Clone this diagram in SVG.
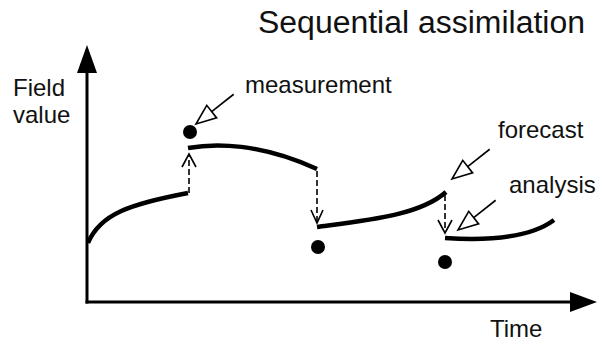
<svg xmlns="http://www.w3.org/2000/svg" width="599" height="343" viewBox="0 0 599 343">
<style>
text{font-family:"Liberation Sans",Arial,sans-serif;font-size:24px;fill:#111}
.axis{stroke:#000;stroke-width:3;fill:none}
.curve{stroke:#000;stroke-width:4.5;fill:none;stroke-linecap:butt}
.dash{stroke:#000;stroke-width:1.6;stroke-dasharray:6 3;fill:none}
.chev{stroke:#000;stroke-width:1.6;fill:none}
.ha line{stroke:#000;stroke-width:1.6}
.ha polygon{stroke:#000;stroke-width:1.6;fill:#fff;stroke-linejoin:miter}
</style>
<defs>
<g id="harrow" class="ha">
<line x1="20" y1="0" x2="48" y2="0"/>
<polygon points="0,0 20,-8 20,8"/>
</g>
</defs>
<g id="title"><text x="258" y="33" style="font-size:31px" textLength="327" lengthAdjust="spacingAndGlyphs">Sequential assimilation</text></g>
<g id="axes">
<line class="axis" x1="87" y1="70" x2="87" y2="303.5"/>
<polygon points="87,45 77,73 97,73" fill="#000"/>
<line class="axis" x1="85.5" y1="302" x2="572" y2="302"/>
<polygon points="597,302 570,292 570,312" fill="#000"/>
<text x="13" y="96">Field</text>
<text x="13" y="123">value</text>
<text x="490" y="337">Time</text>
</g>
<g id="curves">
<path class="curve" d="M88,243 C100,214 130,204 188,193"/>
<path class="curve" d="M188,148 C215,143 260,143 317,169"/>
<path class="curve" d="M317,227 C370,220 420,215 446,192"/>
<path class="curve" d="M445,238 C490,241 530,238 554,220"/>
</g>
<g id="measurements">
<circle cx="190" cy="132" r="7"/>
<circle cx="318" cy="247" r="7"/>
<circle cx="445" cy="262" r="7"/>
</g>
<g id="connectors">
<line class="dash" x1="189" y1="193" x2="189" y2="155"/>
<polyline class="chev" points="182,167 189,154 196,167"/>
<line class="dash" x1="317" y1="171" x2="317" y2="221"/>
<polyline class="chev" points="311,210 317,223 323,210"/>
<line class="dash" x1="445" y1="195" x2="445" y2="231"/>
<polyline class="chev" points="438,220 445,233 452,220"/>
</g>
<g id="measurement-label">
<use href="#harrow" transform="translate(196,124) rotate(-38.3)"/>
<text x="245" y="93">measurement</text>
</g>
<g id="forecast-label">
<use href="#harrow" transform="translate(452,179) rotate(-38.3)"/>
<text x="498" y="138">forecast</text>
</g>
<g id="analysis-label">
<use href="#harrow" transform="translate(458,230) rotate(-38.3)"/>
<text x="509" y="193">analysis</text>
</g>
</svg>
